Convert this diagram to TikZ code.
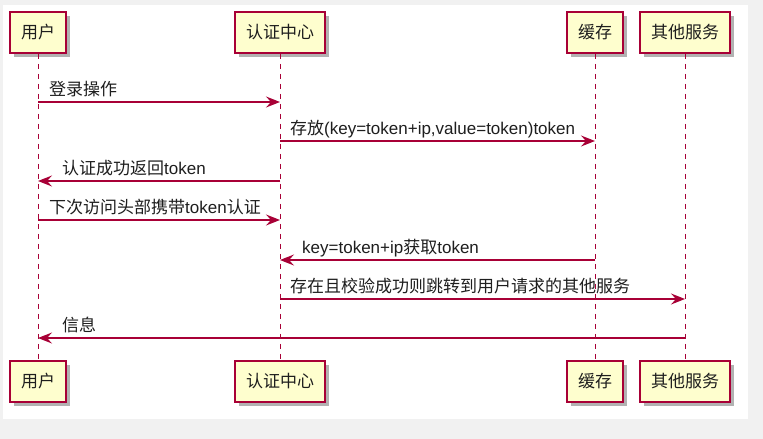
\documentclass[tikz,border=0pt]{standalone}
\usepackage{fontspec}
\setmainfont{Liberation Sans}
\newfontfamily\cjk{Noto Sans CJK SC}
\usetikzlibrary{arrows.meta, shadows}
\definecolor{umlred}{HTML}{A80036}
\definecolor{umlfill}{HTML}{FEFECE}
\definecolor{pagegray}{HTML}{F1F1F1}
\definecolor{txtgray}{HTML}{1E1E1E}
\newcommand{\zh}[1]{{\cjk #1}}

\begin{document}
\begin{tikzpicture}[x=1pt, y=-1pt,
  >={Stealth[length=14pt, width=11pt, inset=5pt]},
  actor/.style={draw=umlred, line width=1.5pt, fill=umlfill, minimum height=41pt,
    inner xsep=11pt, font=\fontsize{17}{20}\cjk, text=txtgray,
    drop shadow={shadow xshift=4pt, shadow yshift=-4pt, fill=black, opacity=0.3}},
  life/.style={draw=umlred, line width=1pt, dash pattern=on 5pt off 5pt},
  msg/.style={->, draw=umlred, fill=umlred, line width=1.2pt},
  msglabel/.style={font=\fontsize{17}{20}\selectfont, text=txtgray,
    anchor=base west, inner sep=0pt},
]

% Background
\useasboundingbox (0,0) rectangle (763,439);
\fill[pagegray] (0,0) rectangle (763,439);
\fill[white] (3,5) rectangle (748,419);

% =============================================
% Participants (top and bottom)
% =============================================
\node[actor] (user) at (38,32.5) {用户};
\node[actor] (auth) at (280,32.5) {认证中心};
\node[actor] (cache) at (595,32.5) {缓存};
\node[actor] (other) at (685,32.5) {其他服务};

\node[actor] (userB) at (38,381.5) {用户};
\node[actor] (authB) at (280,381.5) {认证中心};
\node[actor] (cacheB) at (595,381.5) {缓存};
\node[actor] (otherB) at (685,381.5) {其他服务};

% Lifelines
\draw[life] (user.south) -- (userB.north);
\draw[life] (auth.south) -- (authB.north);
\draw[life] (cache.south) -- (cacheB.north);
\draw[life] (other.south) -- (otherB.north);

% =============================================
% Messages
% =============================================
\coordinate (m1) at (0,102);
\coordinate (m2) at (0,141);
\coordinate (m3) at (0,181);
\coordinate (m4) at (0,220);
\coordinate (m5) at (0,260);
\coordinate (m6) at (0,299);
\coordinate (m7) at (0,338);

\draw[msg] (user |- m1) -- (auth |- m1);
\node[msglabel] (login) at ([xshift=11pt, yshift=7pt]user |- m1) {\zh{登录操作}};

\draw[msg] (auth |- m2) -- (cache |- m2);
\node[msglabel] (store) at ([xshift=10pt, yshift=7pt]auth |- m2)
  {\zh{存放}(key=token+ip,value=token)token};

\draw[msg] (auth |- m3) -- (user |- m3);
\node[msglabel] (okret) at ([xshift=24pt, yshift=7pt]user |- m3) {\zh{认证成功返回}token};

\draw[msg] (user |- m4) -- (auth |- m4);
\node[msglabel] (again) at ([xshift=11pt, yshift=7pt]user |- m4)
  {\zh{下次访问头部携带}token\zh{认证}};

\draw[msg] (cache |- m5) -- (auth |- m5);
\node[msglabel] (fetch) at ([xshift=22pt, yshift=7pt]auth |- m5) {key=token+ip\zh{获取}token};

\draw[msg] (auth |- m6) -- (other |- m6);
\node[msglabel] (pass) at ([xshift=10pt, yshift=7pt]auth |- m6)
  {\zh{存在且校验成功则跳转到用户请求的其他服务}};

\draw[msg] (other |- m7) -- (user |- m7);
\node[msglabel] (info) at ([xshift=24pt, yshift=7pt]user |- m7) {\zh{信息}};

\end{tikzpicture}
\end{document}
